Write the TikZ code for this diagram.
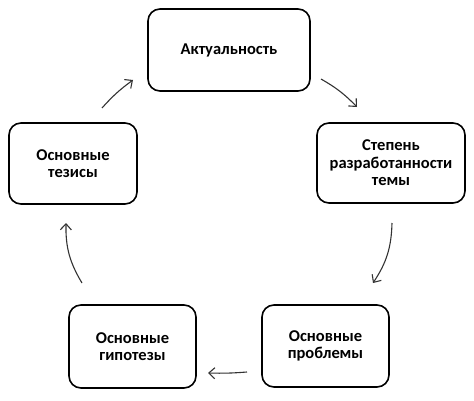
\documentclass[tikz,border=0pt]{standalone}
\usepackage{fontspec}
\setmainfont{Carlito}
\usetikzlibrary{arrows.meta}
\definecolor{arr}{HTML}{333333}
\tikzset{
  box/.style={draw=black, line width=1.6pt, rounded corners=12pt, fill=white,
    align=center, font=\bfseries\fontsize{16.5}{17.5}\selectfont, inner sep=0pt},
  conn/.style={draw=arr, line width=1.1pt, -{Straight Barb[length=6pt,width=11pt]}}
}
\begin{document}
\begin{tikzpicture}[x=1pt,y=1pt]
\useasboundingbox (0,0) rectangle (474,400);
\node[box, minimum width=162pt, minimum height=82pt] (akt) at (229,350) {Актуальность};
\node[box, minimum width=128pt, minimum height=81pt] (tez) at (73,236.5) {Основные\\тезисы};
\node[box, minimum width=148pt, minimum height=80pt] (step) at (391,237) {Степень\\разработанности\\темы};
\node[box, minimum width=127pt, minimum height=83pt] (gip) at (132.5,53.5) {Основные\\гипотезы};
\node[box, minimum width=127pt, minimum height=82pt] (prob) at (325.5,54) {Основные\\проблемы};
\coordinate (a1s) at (102,292); \coordinate (a1e) at (133,320);
\coordinate (a2s) at (321,321); \coordinate (a2e) at (357,293);
\coordinate (a3s) at (392,177); \coordinate (a3e) at (373,117);
\coordinate (a4s) at (247,28);  \coordinate (a4e) at (208,27);
\coordinate (a5s) at (82,117);  \coordinate (a5e) at (66,177);
\draw[conn] (a1s) to[bend left=6] (a1e);
\draw[conn] (a2s) to[bend left=8] (a2e);
\draw[conn] (a3s) to[bend left=16] (a3e);
\draw[conn] (a4s) to[bend left=3] (a4e);
\draw[conn] (a5s) to[bend left=16] (a5e);
\end{tikzpicture}
\end{document}
